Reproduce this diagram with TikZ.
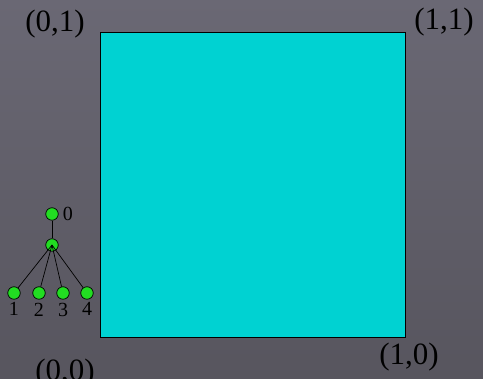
\documentclass[tikz,border=0pt]{standalone}
\usepackage{fontspec}
\setmainfont{Liberation Serif}
\usepackage{xcolor}
\usepackage{tikz}
\usetikzlibrary{positioning,backgrounds,calc}
\definecolor{slatebg}{HTML}{6A6874}
\definecolor{slatebgdark}{HTML}{57555E}
\definecolor{sqcyan}{HTML}{00D2D2}
\definecolor{leafgreen}{HTML}{22DD22}

\begin{document}
\begin{tikzpicture}[x=1pt,y=1pt,
    dot/.style={circle,draw=black,fill=leafgreen,minimum size=12.5pt,inner sep=0pt,line width=0.7pt},
    corner/.style={font=\fontsize{31}{34}\selectfont,inner sep=0pt},
    idx/.style={font=\fontsize{20}{22}\selectfont,inner sep=0pt}]
      \shade[top color=slatebg,bottom color=slatebgdark] (0,0) rectangle (483,379);
      \useasboundingbox (0,0) rectangle (483,379);
      % unit square
      \draw[fill=sqcyan,line width=0.8pt] (100,42) rectangle (405,347);
      \node[corner] (c01) at (55,355) {(0,1)};
      \node[corner] (c11) at (444,357) {(1,1)};
      \node[corner] (c10) at (409,22) {(1,0)};
      \node[corner] (c00) at (65,6) {(0,0)};
      % small tree
      \node[dot] (n0) at (52,165) {};
      \node[idx,right=4pt of n0] (l0) {0};
      \node[dot] (nm) at (52,134) {};
      \node[dot] (n1) at (14,86) {};
      \node[dot] (n2) at (39,86) {};
      \node[dot] (n3) at (63,86) {};
      \node[dot] (n4) at (87,86) {};
      \node[idx,below=3pt of n1] (l1) {1};
      \node[idx,below=3pt of n2] (l2) {2};
      \node[idx,below=3pt of n3] (l3) {3};
      \node[idx,below=3pt of n4] (l4) {4};
      \draw[line width=0.7pt] (n0) -- (nm);
      \draw[line width=0.7pt] (nm.center) -- (n1);
      \draw[line width=0.7pt] (nm.center) -- (n2);
      \draw[line width=0.7pt] (nm.center) -- (n3);
      \draw[line width=0.7pt] (nm.center) -- (n4);
    \end{tikzpicture}
\end{document}
